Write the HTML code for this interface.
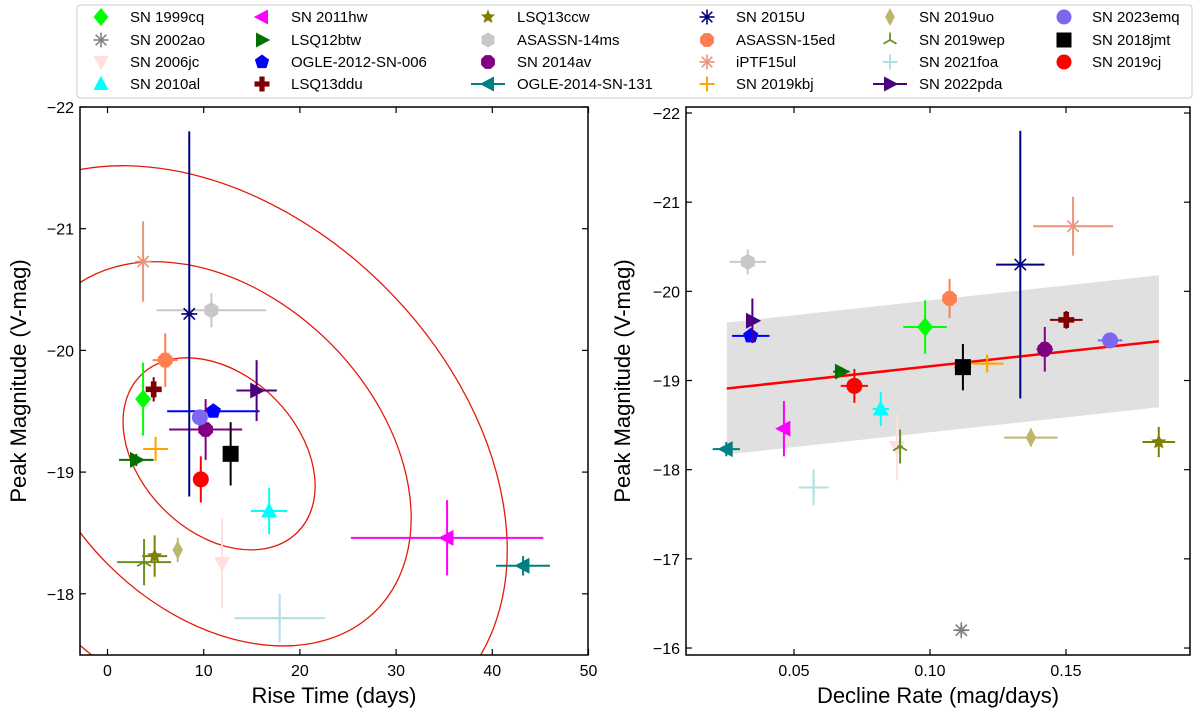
<!DOCTYPE html>
<html><head><meta charset="utf-8"><style>
html,body{margin:0;background:#fff;width:1200px;height:718px;overflow:hidden}
svg{display:block}
svg text{font-family:"Liberation Sans","DejaVu Sans",sans-serif}
</style></head><body>
<svg id="fig" width="1200" height="718" xmlns="http://www.w3.org/2000/svg"></svg>
<script>
const names=["SN 1999cq","SN 2002ao","SN 2006jc","SN 2010al","SN 2011hw","LSQ12btw","OGLE-2012-SN-006","LSQ13ddu","LSQ13ccw","ASASSN-14ms","SN 2014av","OGLE-2014-SN-131","SN 2015U","ASASSN-15ed","iPTF15ul","SN 2019kbj","SN 2019uo","SN 2019wep","SN 2021foa","SN 2022pda","SN 2023emq","SN 2018jmt","SN 2019cj"];
const colors=["#00ff00","#808080","#ffe0dc","#00ffff","#ff00ff","#007000","#0000ff","#800000","#808000","#c8c8c8","#800080","#008080","#000080","#ff7f50","#e9967a","#ffa500","#bdb76b","#6b8e23","#b0e0e6","#4b0082","#7b68ee","#000000","#ff0000"];
const markers=["diamond","asterisk","tridown","triup","trileft","triright","pentagon","plus","star","hexagon","octagon","trileft","asterisk","octagon","asterisk","plus4","thindiamond","tri","plus4","triright","circle","square","circle"];
const riseVals=[3.7,null,11.9,16.8,35.3,3.0,11.0,4.8,4.9,10.8,10.2,43.2,8.5,6.0,3.7,5.0,7.3,3.8,17.9,15.5,9.6,12.8,9.7];
const riseErr=[0.3,0,0.3,1.9,10,1.8,4.8,0.8,1.3,5.7,3.8,2.8,0.3,1.3,0.5,1.3,0.3,2.8,4.7,2.1,0.3,0.4,0.6];
const magVals=[-19.60,-16.20,-18.25,-18.68,-18.46,-19.10,-19.50,-19.68,-18.31,-20.33,-19.35,-18.23,-20.30,-19.92,-20.73,-19.19,-18.36,-18.26,-17.80,-19.67,-19.45,-19.15,-18.94];
const magErr=[0.30,0.05,0.37,0.19,0.31,0.05,0.05,0.10,0.17,0.14,0.25,0.08,1.50,0.22,0.33,0.10,0.10,0.19,0.20,0.25,0.05,0.26,0.19];
const declVals=[0.0982,0.1115,0.0879,0.0819,0.0463,0.0674,0.0341,0.1501,0.1841,0.0330,0.1422,0.0251,0.1332,0.1072,0.1526,0.1210,0.1371,0.0890,0.0572,0.0347,0.1662,0.1121,0.0722];
const declErr=[0.008,0.002,0.001,0.003,0.001,0.003,0.0069,0.006,0.006,0.0067,0.003,0.005,0.0089,0.001,0.0147,0.006,0.0098,0.001,0.0055,0.002,0.0045,0.003,0.005];
const fitX=[0.0253,0.1842];
const fitY=[-18.91,-19.44];
const fitBand=0.74;
const leftXTicks=[0,10,20,30,40,50];
const leftYTicks=[-22,-21,-20,-19,-18];
const rightXTicks=[0.05,0.10,0.15];
const rightYTicks=[-22,-21,-20,-19,-18,-17,-16];
const NS="http://www.w3.org/2000/svg";
const svg=document.getElementById('fig');
function el(t,a,p){const e=document.createElementNS(NS,t);for(const k in a)e.setAttribute(k,a[k]);(p||svg).appendChild(e);return e;}
function marker(g,type,x,y,c,s){
 s=s||8;let e;
 const poly=(pts)=>el('polygon',{points:pts.map(p=>(x+p[0]*s)+','+(y+p[1]*s)).join(' '),fill:c},g);
 const reg=(n,r,rot)=>{const p=[];for(let i=0;i<n;i++){const a=rot+i*2*Math.PI/n;p.push([r*Math.cos(a),r*Math.sin(a)]);}return poly(p);};
 switch(type){
  case 'diamond':e=poly([[0,-1.2],[1,0],[0,1.2],[-1,0]]);break;
  case 'thindiamond':e=poly([[0,-1.2],[0.65,0],[0,1.2],[-0.65,0]]);break;
  case 'triup':e=poly([[0,-1.1],[1,0.8],[-1,0.8]]);break;
  case 'tridown':e=poly([[0,1.1],[1,-0.8],[-1,-0.8]]);break;
  case 'trileft':e=poly([[-1.1,0],[0.8,-1],[0.8,1]]);break;
  case 'triright':e=poly([[1.1,0],[-0.8,-1],[-0.8,1]]);break;
  case 'pentagon':e=reg(5,1,-Math.PI/2);break;
  case 'hexagon':e=reg(6,1,-Math.PI/2);break;
  case 'octagon':e=reg(8,1,Math.PI/8);break;
  case 'circle':e=el('circle',{cx:x,cy:y,r:s,fill:c},g);break;
  case 'square':e=el('rect',{x:x-s,y:y-s,width:2*s,height:2*s,fill:c},g);break;
  case 'plus':e=poly([[-0.35,-1],[0.35,-1],[0.35,-0.35],[1,-0.35],[1,0.35],[0.35,0.35],[0.35,1],[-0.35,1],[-0.35,0.35],[-1,0.35],[-1,-0.35],[-0.35,-0.35]]);break;
  case 'star':{const p=[];for(let i=0;i<10;i++){const a=-Math.PI/2+i*Math.PI/5,r=i%2?0.45:1;p.push([r*Math.cos(a),r*Math.sin(a)]);}e=poly(p);break;}
  case 'asterisk':{e=el('g',{},g);for(let i=0;i<4;i++){const a=i*Math.PI/4;el('line',{x1:x-s*Math.cos(a),y1:y-s*Math.sin(a),x2:x+s*Math.cos(a),y2:y+s*Math.sin(a),stroke:c,'stroke-width':1.6},e);}break;}
  case 'plus4':{e=el('g',{},g);el('line',{x1:x-s,y1:y,x2:x+s,y2:y,stroke:c,'stroke-width':2},e);el('line',{x1:x,y1:y-s,x2:x,y2:y+s,stroke:c,'stroke-width':2},e);break;}
  case 'tri':{e=el('g',{},g);[[-90],[30],[150]].forEach(d=>{const a=d[0]*Math.PI/180;el('line',{x1:x,y1:y,x2:x+s*Math.cos(a),y2:y+s*Math.sin(a),stroke:c,'stroke-width':1.8},e);});break;}
 }
 return e;
}
function axesFrame(g,x0,y0,x1,y1){el('rect',{x:x0,y:y0,width:x1-x0,height:y1-y0,fill:'none',stroke:'#000','stroke-width':1.5},g);}
function drawPanel(cfg){
 const g=el('g',{});
 
 const {x0,x1,y0,y1,xs,ys}=cfg;
 const cid='clip'+cfg.name;
 const cp=el('clipPath',{id:cid},g);el('rect',{x:x0,y:y0,width:x1-x0,height:y1-y0},cp);
 const pg=el('g',{'clip-path':'url(#'+cid+')'},g);
 cfg.under && cfg.under(pg);
 names.forEach((n,i)=>{
  const xv=cfg.xv[i]; if(xv==null) return;
  const px=xs(xv),py=ys(magVals[i]),c=colors[i];
  const pt=el('g',{},pg);
  
  el('line',{x1:xs(xv-cfg.xe[i]),y1:py,x2:xs(xv+cfg.xe[i]),y2:py,stroke:c,'stroke-width':2},pt);
  el('line',{x1:px,y1:ys(magVals[i]-magErr[i]),x2:px,y2:ys(magVals[i]+magErr[i]),stroke:c,'stroke-width':2},pt);
  marker(pt,markers[i],px,py,c,8);
 });
 axesFrame(g,x0,y0,x1,y1);
 cfg.xt.forEach(v=>{const x=xs(v);el('line',{x1:x,y1:y1,x2:x,y2:y1-6,stroke:'#000','stroke-width':1.2},g);el('line',{x1:x,y1:y0,x2:x,y2:y0+6,stroke:'#000','stroke-width':1.2},g);
  const t=el('text',{x:x,y:y1+21,'font-size':16,'text-anchor':'middle'},g);t.textContent=cfg.xfmt(v);});
 cfg.yt.forEach(v=>{const y=ys(v);el('line',{x1:x0,y1:y,x2:x0+6,y2:y,stroke:'#000','stroke-width':1.2},g);el('line',{x1:x1,y1:y,x2:x1-6,y2:y,stroke:'#000','stroke-width':1.2},g);
  const t=el('text',{x:x0-6,y:y+6,'font-size':16,'text-anchor':'end'},g);t.textContent='\u2212'+Math.abs(v);});
 const xl=el('text',{x:(x0+x1)/2,y:y1+48,'font-size':22,'text-anchor':'middle'},g);xl.textContent=cfg.xlabel;
 
 const yl=el('text',{x:0,y:0,'font-size':22,'text-anchor':'middle',transform:`translate(${cfg.ylx},${(y0+y1)/2}) rotate(-90)`},g);yl.textContent='Peak Magnitude (V-mag)';
 
}
const Lxs=v=>107.5+v*9.62, Lys=v=>107+(v+22)*121.7;
drawPanel({name:'rise-time-panel',x0:80,x1:588,y0:107,y1:655,xs:Lxs,ys:Lys,xv:riseVals,xe:riseErr,xt:leftXTicks,yt:leftYTicks,xfmt:v=>String(v),xlabel:'Rise Time (days)',ylx:26,
 under:(g)=>{const cx=Lxs(11.6),cy=Lys(-19.15);[1,2,3].forEach(k=>{const e=el('ellipse',{cx:cx,cy:cy,rx:110.9*k,ry:78.4*k,transform:`rotate(45 ${cx} ${cy})`,fill:'none',stroke:'#e31a0c','stroke-width':1.3},g);});}});
const Rxs=v=>794+(v-0.05)*2720, Rys=v=>113+(v+22)*89.17;
drawPanel({name:'decline-rate-panel',x0:686,x1:1190,y0:107,y1:655,xs:Rxs,ys:Rys,xv:declVals,xe:declErr,xt:rightXTicks,yt:rightYTicks,xfmt:v=>v.toFixed(2),xlabel:'Decline Rate (mag/days)',ylx:630,
 under:(g)=>{const b=el('polygon',{points:[[fitX[0],fitY[0]-fitBand],[fitX[1],fitY[1]-fitBand],[fitX[1],fitY[1]+fitBand],[fitX[0],fitY[0]+fitBand]].map(p=>Rxs(p[0])+','+Rys(p[1])).join(' '),fill:'#e0e0e0'},g);
  
  const l=el('line',{x1:Rxs(fitX[0]),y1:Rys(fitY[0]),x2:Rxs(fitX[1]),y2:Rys(fitY[1]),stroke:'#ff0000','stroke-width':2.5},g);
  }});
const lg=el('g',{});

el('rect',{x:77,y:5,width:1115,height:93,rx:3,fill:'#fff',stroke:'#ccc'},lg);
const colMk=[101,262,488,707,890,1064],colTx=[130,291,517,736,919,1092],rowY=[17,40,62,84];
names.forEach((n,i)=>{
 const col=Math.floor(i/4),row=i%4;
 const g=el('g',{},lg);
 
 if(i==11||i==19) el('line',{x1:colMk[col]-17,y1:rowY[row],x2:colMk[col]+17,y2:rowY[row],stroke:colors[i],'stroke-width':2},g);
 marker(g,markers[i],colMk[col],rowY[row],colors[i],7.5);
 const t=el('text',{x:colTx[col],y:rowY[row]+5,'font-size':15},g);t.textContent=n;
});
</script>
</body></html>
